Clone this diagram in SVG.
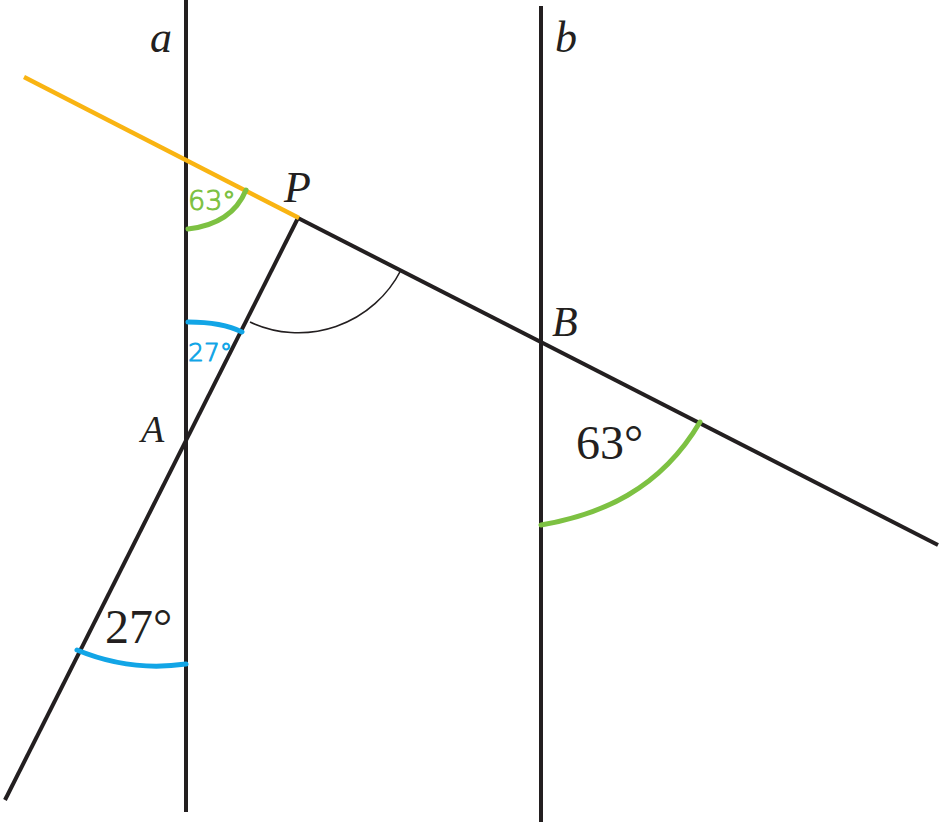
<svg xmlns="http://www.w3.org/2000/svg" width="941" height="822" viewBox="0 0 941 822">
<style>
.ln{stroke:#231f20;stroke-width:4;fill:none;stroke-linecap:butt}
.thin{stroke:#231f20;stroke-width:1.6;fill:none}
.g{stroke:#7dc142;stroke-width:5;fill:none;stroke-linecap:round}
.bl{stroke:#12a5e6;stroke-width:5;fill:none;stroke-linecap:round}
.lab{font-family:"Liberation Serif",serif;font-style:italic;fill:#231f20}
.deg{font-family:"Liberation Serif",serif;fill:#231f20;font-size:48px}
.hand{font-family:"DejaVu Sans",sans-serif;font-weight:300;stroke-width:1;stroke-linejoin:round}
</style>
<rect width="941" height="822" fill="#fff"/>
<g id="lines">
<line id="line-a" class="ln" x1="186" y1="0" x2="186" y2="812"/>
<line id="line-b" class="ln" x1="541" y1="6" x2="541" y2="822"/>
<line id="line-PA" class="ln" x1="298" y1="218" x2="5" y2="800"/>
<line id="line-PB" class="ln" x1="298" y1="218" x2="938" y2="545"/>
<line id="line-orange" x1="24" y1="77" x2="299" y2="218" stroke="#f9b412" stroke-width="4.5"/>
</g>
<g id="arcs">
<path class="thin" d="M250 322 A115 115 0 0 0 401 270"/>
<path class="g" d="M188 229 Q232 224 246 190"/>
<path class="bl" d="M188 322 Q222 322 242 332"/>
<path class="g" d="M541 525 C600 515 660 490 700 422"/>
<path class="bl" d="M77 650 Q130 672 186 664"/>
</g>
<g id="labels">
<text class="lab" x="150" y="52" font-size="44">a</text>
<text class="lab" x="555" y="52" font-size="44">b</text>
<text class="lab" x="284" y="202" font-size="44">P</text>
<text class="lab" x="552" y="336" font-size="42">B</text>
<text class="lab" x="141" y="442" font-size="38">A</text>
<text class="deg" x="576" y="459">63°</text>
<text class="deg" x="105" y="643">27°</text>
<text class="hand" x="188" y="210" font-size="27" fill="#7dc142" stroke="#7dc142">63°</text>
<text class="hand" x="188" y="361" font-size="25" fill="#12a5e6" stroke="#12a5e6">27°</text>
</g>
</svg>
